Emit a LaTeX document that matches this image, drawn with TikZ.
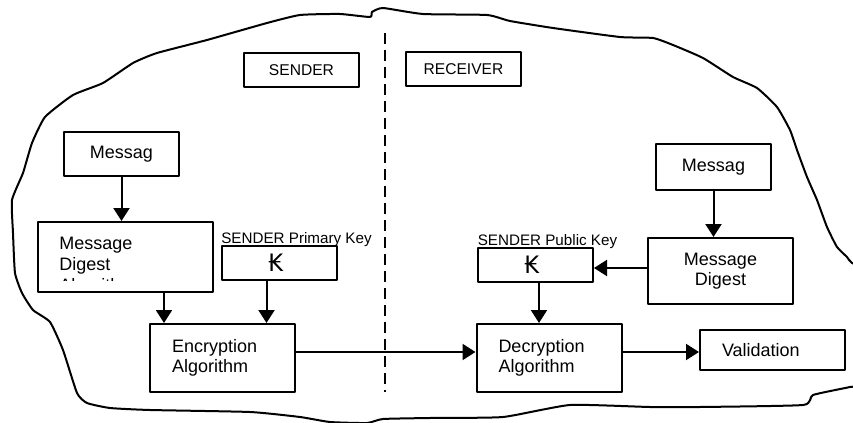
\documentclass[tikz,border=0pt]{standalone}
\usepackage{fontspec}
\setmainfont{Liberation Sans}
\newfontfamily\kipfont{DejaVu Sans}
\usetikzlibrary{arrows.meta,calc}
\tikzset{>={Triangle[length=6.5pt,width=8pt]}}

\begin{document}
\begin{tikzpicture}[x=0.5pt,y=-0.5pt,line join=round,
  box/.style={draw,line width=1pt,inner sep=0pt,font=\fontsize{9}{10}\selectfont},
  algbox/.style={box,align=left,text width=50.5pt,inner xsep=11pt},
  tag/.style={font=\fontsize{7.6}{9}\selectfont,inner sep=0pt,anchor=base},
  flow/.style={->,line width=1pt}]
\useasboundingbox (0,0) rectangle (853,423);
% hand drawn outline
\begin{scope}
\clip (0,0) rectangle (853,423);
\draw[line width=1pt] plot[smooth cycle,tension=0.3] coordinates {
  (12,200) (23,173) (32,143) (45,117) (73,95) (103,83) (133,63) (157,53)
  (207,40) (267,23) (300,15) (340,14) (370,17) (372,12) (383,8) (423,14)
  (487,15) (510,21) (553,28) (620,37) (653,38) (673,45) (703,58) (733,77)
  (757,88) (777,107) (790,130) (797,150) (807,177) (817,200) (827,227)
  (837,247) (847,257) (852,263) (880,280) (880,380) (850,387) (813,395)
  (803,405) (700,407) (650,407) (570,405) (503,417) (430,418) (383,419)
  (367,423) (330,422) (300,417) (250,412) (150,410) (110,408) (87,403)
  (77,393) (63,350) (50,322) (33,310) (22,293) (15,273) (13,233)};
\end{scope}
\coordinate (divtop) at (385,33);
\coordinate (divbot) at (385,392);
\draw[dash pattern=on 5.5pt off 3pt,line width=1pt] (divtop) -- (divbot);
% sender side
\node[box,minimum width=57.5pt,minimum height=17pt,font=\fontsize{7.8}{9}\selectfont] (sender) at (301.5,70) {SENDER};
\node[box,minimum width=57.5pt,minimum height=22pt] (msgL) at (121.5,154) {Messag};
\node[box,minimum width=87.5pt,minimum height=35pt] (mdaL) at (125.5,257) {};
\begin{scope}
\clip (mdaL.north west) rectangle ($(mdaL.south east)+(0,-13)$);
\node[anchor=north west,align=left,inner sep=0pt,font=\fontsize{9}{10.5}\selectfont] (mdaLtxt) at (59,237) {Message\\Digest\\Algorithm};
\end{scope}
\node[box,minimum width=57.5pt,minimum height=17pt] (keyS) at (279.5,263) {\kipfont\fontsize{12}{12}\selectfont ₭\hspace*{3.5pt}};
\node[tag] (keySlab) at (296.5,243) {SENDER Primary Key};
\node[algbox,minimum height=34pt] (enc) at (222.5,358) {Encryption\\Algorithm};
% receiver side
\node[box,minimum width=57.5pt,minimum height=17pt,font=\fontsize{7.8}{9}\selectfont] (receiver) at (463.5,69) {RECEIVER};
\node[box,minimum width=57.5pt,minimum height=23pt] (msgR) at (713.5,167) {Messag};
\node[box,align=center,minimum width=72.5pt,minimum height=33pt] (mdR) at (720.5,271) {Message\\Digest};
\node[box,minimum width=57.5pt,minimum height=17pt] (keyR) at (535.5,265) {\kipfont\fontsize{12}{12}\selectfont ₭\hspace*{3.5pt}};
\node[tag] (keyRlab) at (547.5,245) {SENDER Public Key};
\node[algbox,minimum height=34pt] (dec) at (549,358) {Decryption\\Algorithm};
\node[algbox,minimum height=20pt] (val) at (772.5,350) {Validation};
% arrows
\coordinate (encinL) at ($(enc.north west)+(15,0)$);
\coordinate (encinR) at ($(keyS.south)+(-13,0)$);
\coordinate (encout) at ($(enc.east)+(0,-6)$);
\coordinate (decout) at ($(dec.east)+(0,-6)$);
\coordinate (keyin) at ($(keyR.east)+(0,3)$);
\coordinate (decin) at ($(keyR.south)+(3.5,0)$);
\draw[flow] (msgL.south) -- (msgL.south |- mdaL.north);
\draw[flow] (encinL |- mdaL.south) -- (encinL);
\draw[flow] (encinR) -- (encinR |- enc.north);
\draw[flow] (encout) -- (encout -| dec.west);
\draw[flow] (decout) -- (decout -| val.west);
\draw[flow] (msgR.south) -- (msgR.south |- mdR.north);
\draw[flow] (keyin -| mdR.west) -- (keyin);
\draw[flow] (decin) -- (decin |- dec.north);
\end{tikzpicture}
\end{document}
